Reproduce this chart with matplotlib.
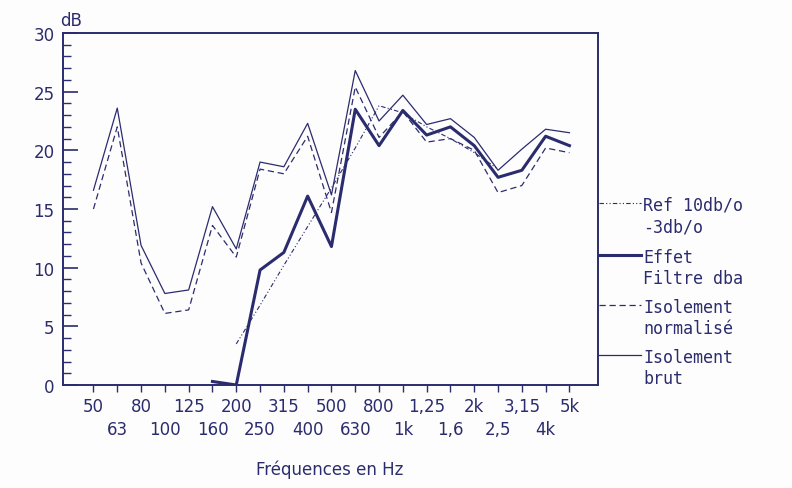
import numpy as np
import matplotlib
matplotlib.use("Agg")
import matplotlib.pyplot as plt
from matplotlib.lines import Line2D

# third-octave bands
freqs = ["50", "63", "80", "100", "125", "160", "200", "250", "315", "400",
         "500", "630", "800", "1k", "1,25", "1,6", "2k", "2,5", "3,15", "4k", "5k"]

# isolement brut (thin solid)
brut = [16.6, 23.6, 11.9, 7.8, 8.1, 15.2, 11.6, 19.0, 18.6, 22.3,
        16.2, 26.8, 22.5, 24.7, 22.2, 22.7, 21.1, 18.3, 20.1, 21.8, 21.5]

# isolement normalise (dashed)
norm = [15.0, 22.0, 10.4, 6.1, 6.4, 13.6, 10.9, 18.4, 18.0, 21.2,
        14.7, 25.4, 21.1, 23.3, 20.7, 21.0, 20.0, 16.4, 17.0, 20.2, 19.8]

# effet filtre dba (thick), starts at 160 Hz
effet = [None, None, None, None, None, 0.3, 0.0, 9.8, 11.3, 16.1,
         11.8, 23.5, 20.4, 23.4, 21.3, 22.0, 20.4, 17.7, 18.3, 21.2, 20.4]

# reference 10 dB/oct then -3 dB/oct, 200 Hz to 2,5k
ref = [None, None, None, None, None, None, 3.5, 6.8, 10.2, 13.5,
       16.8, 20.2, 23.8, 23.2, 22.0, 21.0, 19.8, 18.4, None, None, None]

legend_labels = ["Ref 10db/o\n-3db/o", "Effet\nFiltre dba",
                 "Isolement\nnormalisé", "Isolement\nbrut"]

ink = "#2b2c6e"

def to_arr(v):
    return np.array([np.nan if a is None else a for a in v], dtype=float)

x = np.arange(len(freqs))

fig = plt.figure(figsize=(7.92, 4.89), dpi=100)
fig.patch.set_facecolor("#fdfdfd")
ax = fig.add_axes([63/792, 1-386/489, (598-63)/792, (386-34)/489])
ax.set_facecolor("#fdfdfd")

ref_style = (0, (4, 2, 1, 2, 1, 2))
dash_style = (0, (5, 3))

ax.plot(x, to_arr(brut), color=ink, lw=0.9)
ax.plot(x, to_arr(norm), color=ink, lw=0.9, linestyle=dash_style)
ax.plot(x, to_arr(effet), color=ink, lw=2.2)
ax.plot(x, to_arr(ref), color=ink, lw=0.8, linestyle=ref_style)

ax.set_xlim(-1.28, 21.2)
ax.set_ylim(0, 30)

for s in ax.spines.values():
    s.set_color(ink)
    s.set_linewidth(1.4)

ax.set_yticks(range(0, 31, 5))
ax.set_yticks(range(0, 31, 1), minor=True)
ax.tick_params(axis="y", which="major", direction="in", length=11, width=1.2,
               colors=ink, labelsize=12, pad=6)
ax.tick_params(axis="y", which="minor", direction="in", length=6, width=1.0,
               colors=ink)

# two rows of band labels: even bands on the first row, odd on the second
ax.xaxis.set_major_locator(plt.FixedLocator(x[::2]))
ax.xaxis.set_major_formatter(plt.FixedFormatter(freqs[::2]))
ax.xaxis.set_minor_locator(plt.FixedLocator(x[1::2]))
ax.xaxis.set_minor_formatter(plt.FixedFormatter(freqs[1::2]))
ax.tick_params(axis="x", which="both", direction="out", length=5, width=1.0,
               colors=ink, labelsize=12)
ax.tick_params(axis="x", which="major", pad=4)
ax.tick_params(axis="x", which="minor", pad=20)

ax.text(-0.006, 1.012, "dB", transform=ax.transAxes, color=ink, fontsize=12,
        ha="left", va="bottom")
fig.text(330/792, 1-470/489, "Fréquences en Hz", color=ink, fontsize=12,
         ha="center", va="center")

# legend drawn beside the right spine
styles = [dict(lw=0.8, linestyle=ref_style), dict(lw=2.2),
          dict(lw=0.9, linestyle=dash_style), dict(lw=0.9)]
ys = [204, 256, 306, 356]
for lab, st, yy in zip(legend_labels, styles, ys):
    fy = 1 - yy/489
    fig.add_artist(Line2D([599/792, 641/792], [fy, fy], color=ink,
                          transform=fig.transFigure, **st))
    fig.text(643/792, fy + 7/489, lab, color=ink, fontsize=12,
             family="DejaVu Sans Mono", ha="left", va="top", linespacing=1.25)

fig.savefig("out.png", dpi=100, facecolor=fig.get_facecolor())
